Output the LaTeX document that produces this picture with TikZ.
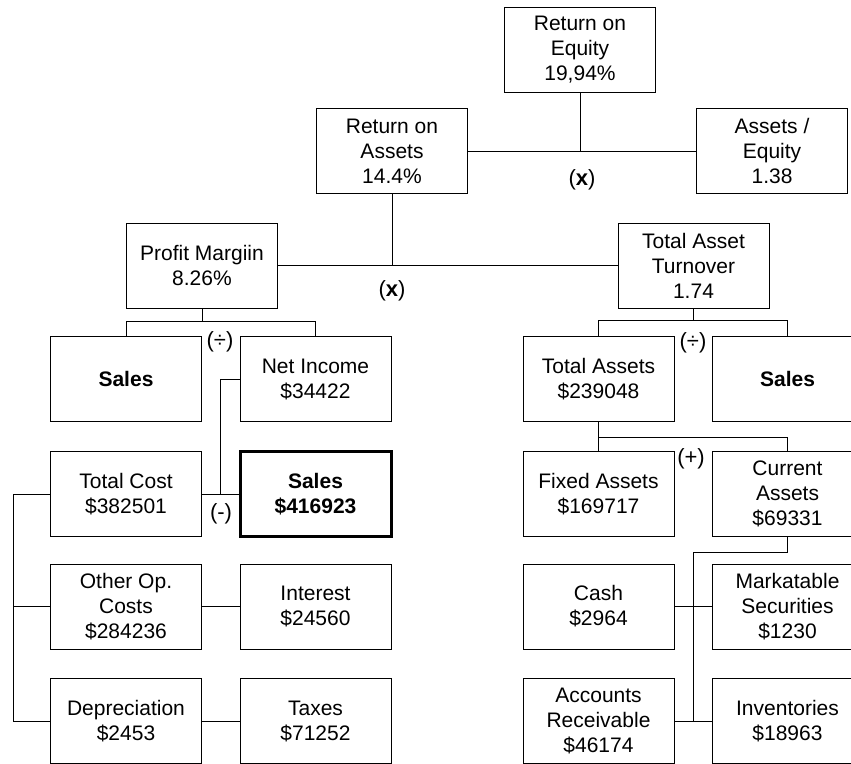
\documentclass[tikz,border=0pt]{standalone}
\usepackage{fontspec}
\setmainfont{Liberation Sans}
\usetikzlibrary{positioning}
\usetikzlibrary{calc}

\tikzset{
  fbox/.style={draw, line width=1pt, minimum width=151pt, minimum height=85pt,
    inner sep=0pt, align=center, font=\fontsize{21}{25}\selectfont},
  keybox/.style={fbox, line width=3pt, font=\fontsize{21}{25}\selectfont\bfseries},
  oplabel/.style={inner sep=0pt, font=\fontsize{22}{25}\selectfont}
}

\begin{document}
\begin{tikzpicture}[x=1pt, y=-1pt, line width=1pt]
\useasboundingbox (0,0) rectangle (851,763);
\clip (0,0) rectangle (851,763);

% top levels
\node[fbox] (roe) at (580,50) {Return on\\Equity\\19,94\%};
\node[fbox] (roa) at (392,151) {Return on\\Assets\\14.4\%};
\node[fbox] (assetseq) at (772,151) {Assets /\\Equity\\1.38};
\node[fbox] (margin) at (202,265.5) {Profit Margiin\\8.26\%};
\node[fbox] (turnover) at (693.5,265.5) {Total Asset\\Turnover\\1.74};

% left branch
\node[fbox] (salesa) at (126,379) {\textbf{Sales}};
\node[fbox] (netinc) at (315.5,379) {Net Income\\\$34422};
\node[fbox] (totcost) at (126,494) {Total Cost\\\$382501};
\node[keybox] (salesb) at (315.5,494) {Sales\\\$416923};
\node[fbox] (otherop) at (126,606.5) {Other Op.\\Costs\\\$284236};
\node[fbox] (interest) at (315.5,606.5) {Interest\\\$24560};
\node[fbox] (deprec) at (126,721) {Depreciation\\\$2453};
\node[fbox] (taxes) at (315.5,721) {Taxes\\\$71252};

% right branch
\node[fbox] (totassets) at (598.5,379) {Total Assets\\\$239048};
\node[fbox] (salesc) at (787.5,379) {\textbf{Sales}};
\node[fbox] (fixassets) at (598.5,494) {Fixed Assets\\\$169717};
\node[fbox] (curassets) at (787.5,494) {Current\\Assets\\\$69331};
\node[fbox] (cash) at (598.5,606.5) {Cash\\\$2964};
\node[fbox] (securities) at (787.5,606.5) {Markatable\\Securities\\\$1230};
\node[fbox] (receivable) at (598.5,721) {Accounts\\Receivable\\\$46174};
\node[fbox] (inventory) at (787.5,721) {Inventories\\\$18963};

% operators
\node[oplabel] (opa) at (582,180) {(\textbf{x})};
\node[oplabel] (opb) at (392,291) {(\textbf{x})};
\node[oplabel] (opc) at (220,342) {(÷)};
\node[oplabel] (opd) at (221,514) {(-)};
\node[oplabel] (ope) at (693,343) {(÷)};
\node[oplabel] (opf) at (691,459) {(+)};

% connectors
\draw (roa) -- (assetseq);
\draw (roe.south) -- (roe.south |- roa.east);
\draw (margin) -- (turnover);
\draw (roa.south) -- (roa.south |- margin.east);

\draw (salesa.north) -- ++(0,-15) coordinate (marginbar) -| (netinc.north);
\draw (margin.south) -- (margin.south |- marginbar);
\draw (netinc.west) -- ++(-19,0) coordinate (netbend) -- (netbend |- salesb.west);
\draw (totcost) -- (salesb);
\draw (totcost.west) -- ++(-37,0) coordinate (costbar) |- (deprec.west);
\draw (otherop.west) -- (otherop.west -| costbar);
\draw (otherop) -- (interest);
\draw (deprec) -- (taxes);

\draw (totassets.north) -- ++(0,-16) coordinate (turnbar) -| (salesc.north);
\draw (turnover.south) -- (turnover.south |- turnbar);
\draw (totassets.south) -- ++(0,15) coordinate (assetbar) -| (curassets.north);
\draw (fixassets.north) -- (fixassets.north |- assetbar);
\coordinate (curvert) at ($(receivable.east)!0.5!(inventory.west)$);
\draw (curassets.south) -- ++(0,15) -| (curvert);
\draw (cash) -- (securities);
\draw (receivable) -- (inventory);

\end{tikzpicture}
\end{document}
